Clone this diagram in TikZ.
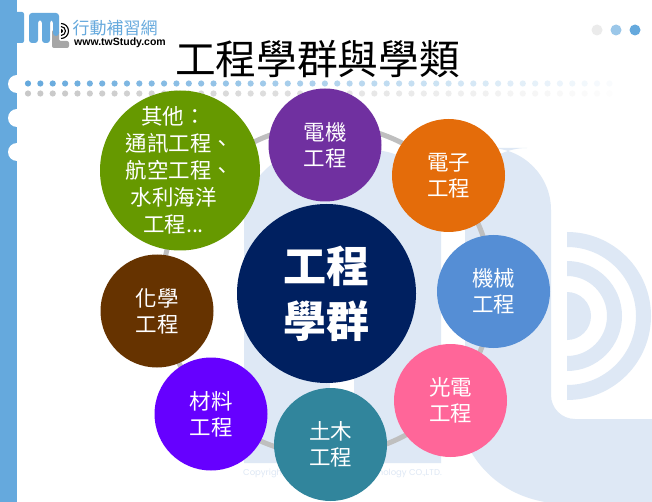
\documentclass[tikz,border=0pt]{standalone}
\usepackage{fontspec}
\setmainfont{Noto Sans CJK TC}
\newfontfamily\latinfont{Liberation Sans}
\newfontfamily\copyfont{Poppins}
\usepackage{tikz}
\pgfdeclarelayer{bg}
\pgfsetlayers{bg,main}
\definecolor{pale}{HTML}{DEE8F5}
\definecolor{sidebar}{HTML}{65A9DD}
\definecolor{dotgray}{HTML}{C8C8C8}
\definecolor{ringgray}{HTML}{BFBFBF}
\definecolor{logogray}{HTML}{A6A6A6}
\tikzset{
    every node/.style={inner sep=0mm},
    field/.style={circle, minimum size=113pt, text=white, align=center,
        font=\fontsize{21.5}{26}\selectfont},
    paleshape/.style={fill=pale, draw=none}
}

\begin{document}
\begin{tikzpicture}[x=1pt, y=-1pt]
    \useasboundingbox (0,0) rectangle (652,502);

    \begin{pgfonlayer}{bg}
        \fill[white] (0,0) rectangle (652,502);

        \fill[paleshape] (244,463) -- (244,220) arc (180:270:70) -- (371,150) arc (270:360:70) -- (441,463) -- cycle;
        \fill[white] (330,360) rectangle (354,464);
        \fill[paleshape] (465,440) -- (465,210) arc (180:270:62) -- (489,148) arc (270:360:62) -- (551,395)
            arc (180:90:24) -- (652,419) -- (652,502) -- (545,502) .. controls (505,495) and (478,470) .. (465,440) -- cycle;

        \fill[paleshape] (567,232) arc (-90:90:84) -- (567,385) arc (90:-90:69) -- cycle;
        \fill[paleshape] (567,261) arc (-90:90:55) -- (567,356) arc (90:-90:40) -- cycle;
        \fill[paleshape] (567,292) arc (-90:90:24) -- cycle;

        \fill[sidebar] (0,0) rectangle (17,502);
        \fill[sidebar, rounded corners=2pt] (15,12) rectangle (24,43);
        \foreach \y in {84,118,152}
            \fill[white] (17,\y) circle (9);

        \foreach \i in {0,...,47} {
            \pgfmathsetmacro{\fade}{1-0.0205*\i}
            \fill[sidebar, opacity=\fade] ({28+12.37*\i},83.5) circle (3.1);
            \fill[dotgray, opacity=\fade] ({28+12.37*\i},93.5) circle (3.1);
        }

        \fill[logogray, rounded corners=2pt] (52,30) -- (52,48) -- (69,48) -- (69,41) -- (59,41) -- (59,30) -- cycle;
        \fill[sidebar, rounded corners=3pt] (29,43) -- (29,13) -- (59,13) -- (59,36) -- (53,36) -- (53,20) -- (50,20)
            -- (50,43) -- (42,43) -- (42,20) -- (38,20) -- (38,43) -- cycle;
        \draw[black, line width=1.1pt] (61,23.5) arc (-90:90:7.5);
        \draw[black, line width=1.1pt] (61,26.5) arc (-90:90:4.5);
        \fill[black] (61,29) arc (-90:90:2) -- cycle;

        \fill[black!8] (597,30) circle (5.5);
        \fill[sidebar!65!white] (616,30) circle (5.5);
        \fill[sidebar] (635,30) circle (5.5);
    \end{pgfonlayer}

    \node (ring) at (327,290) [circle, draw=ringgray, line width=5pt, minimum size=330pt] {};

    \node (brand) at (115,28) {\textcolor{sidebar}{\fontsize{17}{17}\selectfont 行動補習網}};
    \node (site) at (120,43) {\latinfont\bfseries\fontsize{10.5}{11}\selectfont www.twStudy.com};
    \node (title) at (317.5,59) {\fontsize{40.7}{41}\selectfont 工程學群與學類};

    \node (copyl) at (243,473) [anchor=west, text=pale] {\copyfont\fontsize{8.5}{9}\selectfont Copyright};
    \node (copyr) at (442,473) [anchor=east, text=pale] {\copyfont\fontsize{8.5}{9}\selectfont nology CO.,LTD.};

    \node (main) at (326.5,293.5) [field, minimum size=179pt, fill={rgb,255:red,0;green,32;blue,96},
        font=\fontsize{43}{55}\selectfont\bfseries] {工程\\學群};
    \node (elec) at (325,145) [field, fill={rgb,255:red,112;green,48;blue,160}] {電機\\工程};
    \node (tron) at (448.5,175.5) [field, fill={rgb,255:red,228;green,108;blue,10}] {電子\\工程};
    \node (mech) at (493.5,291.5) [field, fill={rgb,255:red,85;green,142;blue,213}] {機械\\工程};
    \node (opto) at (450.5,400.5) [field, fill={rgb,255:red,255;green,102;blue,153}] {光電\\工程};
    \node (civil) at (330.5,444.5) [field, fill={rgb,255:red,49;green,133;blue,156}] {土木\\工程};
    \node (matl) at (211,414) [field, fill={rgb,255:red,102;green,0;blue,255}] {材料\\工程};
    \node (chem) at (157,311) [field, fill={rgb,255:red,102;green,51;blue,0}] {化學\\工程};
    \node (other) at (180,170.5) [field, minimum size=160pt, inner sep=-12pt, fill={rgb,255:red,102;green,153;blue,0},
        font=\fontsize{21.5}{27}\selectfont] {其他：\rule{13pt}{0pt}\\通訊工程、\rule{1pt}{0pt}\\航空工程、\rule{1pt}{0pt}\\水利海洋\rule{13pt}{0pt}\\工程...\rule{13pt}{0pt}};
\end{tikzpicture}
\end{document}
